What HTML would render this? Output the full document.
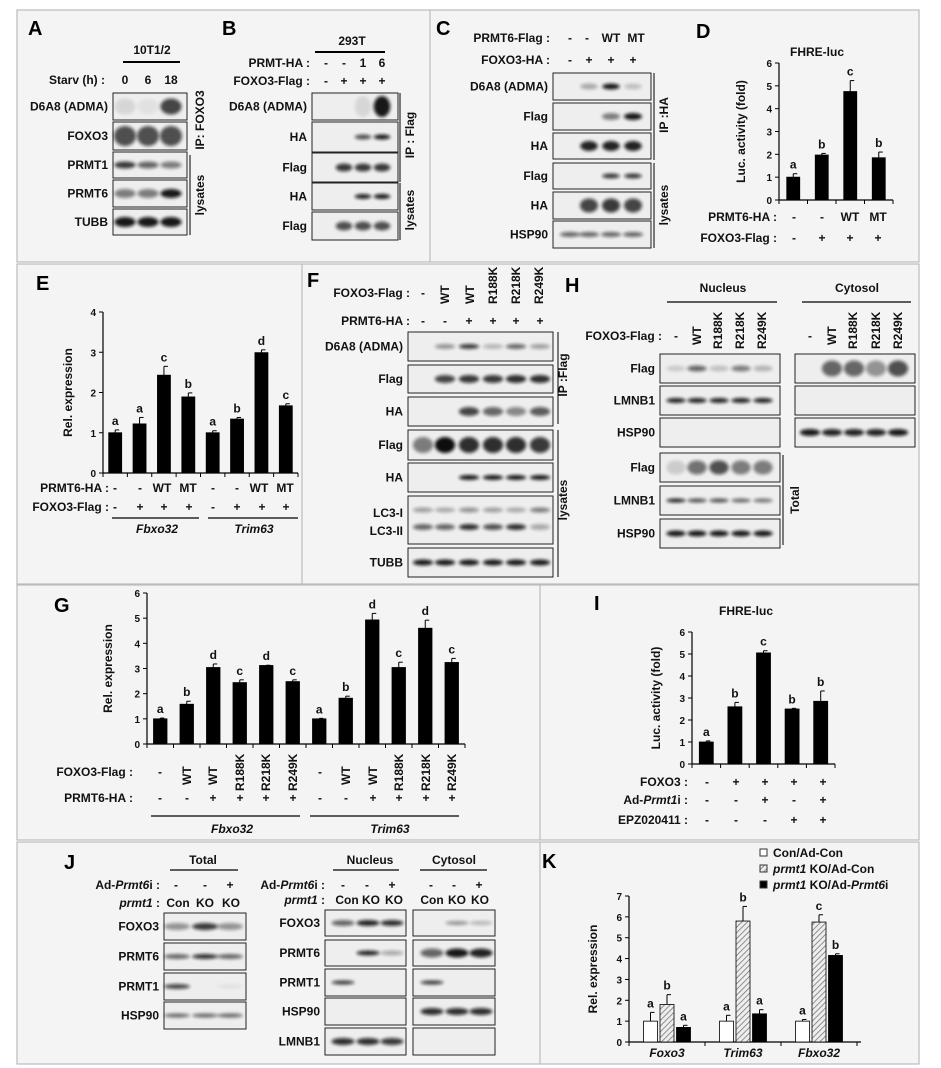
<!DOCTYPE html>
<html><head><meta charset="utf-8">
<style>
html,body{margin:0;padding:0;background:#fff;}
svg{display:block;font-family:"Liberation Sans",Arial,sans-serif;}
.lb{font-weight:bold;font-size:12px;fill:#111;}
.pl{font-weight:bold;font-size:20px;fill:#000;}
.tk{font-weight:bold;font-size:10px;fill:#111;}
.it{font-style:italic;}
</style></head>
<body>
<svg id="fig" width="941" height="1068" viewBox="0 0 941 1068" xmlns="http://www.w3.org/2000/svg">
<defs>
<filter id="blur" x="-50%" y="-100%" width="200%" height="300%"><feGaussianBlur stdDeviation="1.5"/></filter>
<pattern id="hatch" width="4" height="4" patternUnits="userSpaceOnUse" patternTransform="rotate(45)">
<rect width="4" height="4" fill="#eee"/><line x1="0" y1="0" x2="0" y2="4" stroke="#777" stroke-width="1.6"/></pattern>
</defs>
<rect x="0" y="0" width="941" height="1068" fill="#fff"/>
<g fill="#f4f4f4" stroke="#bbb" stroke-width="1.2">
<rect x="17" y="10" width="902" height="252"/>
<rect x="17" y="264" width="902" height="320"/>
<rect x="17" y="585" width="902" height="255"/>
<rect x="17" y="842" width="902" height="222"/>
</g>
<g stroke="#bbb" stroke-width="1.2">
<line x1="430" y1="10" x2="430" y2="262"/>
<line x1="302" y1="264" x2="302" y2="584"/>
<line x1="540" y1="585" x2="540" y2="840"/>
<line x1="540" y1="842" x2="540" y2="1064"/>
</g>
<g id="static">
<text class="pl" x="28" y="35">A</text>
<text class="lb" x="152" y="54" text-anchor="middle">10T1/2</text>
<line x1="123" y1="62" x2="180" y2="62" stroke="#000" stroke-width="2"/>
<text class="lb" x="105" y="84" text-anchor="end">Starv (h) :</text>
<text class="lb" x="125" y="84" text-anchor="middle">0</text><text class="lb" x="148" y="84" text-anchor="middle">6</text><text class="lb" x="171" y="84" text-anchor="middle">18</text>
<text class="lb" transform="translate(204,120) rotate(-90)" text-anchor="middle">IP: FOXO3</text>
<line x1="190" y1="155" x2="190" y2="235" stroke="#000"/>
<text class="lb" transform="translate(204,195) rotate(-90)" text-anchor="middle">lysates</text>
<text class="pl" x="222" y="35">B</text>
<text class="lb" x="352" y="45" text-anchor="middle">293T</text>
<line x1="315" y1="52" x2="385" y2="52" stroke="#000" stroke-width="2"/>
<text class="lb" x="310" y="67" text-anchor="end">PRMT-HA :</text>
<text class="lb" x="326" y="67" text-anchor="middle">-</text><text class="lb" x="344" y="67" text-anchor="middle">-</text><text class="lb" x="363" y="67" text-anchor="middle">1</text><text class="lb" x="382" y="67" text-anchor="middle">6</text>
<text class="lb" x="310" y="85" text-anchor="end">FOXO3-Flag :</text>
<text class="lb" x="326" y="85" text-anchor="middle">-</text><text class="lb" x="344" y="85" text-anchor="middle">+</text><text class="lb" x="363" y="85" text-anchor="middle">+</text><text class="lb" x="382" y="85" text-anchor="middle">+</text>
<line x1="400" y1="93" x2="400" y2="182" stroke="#000"/>
<text class="lb" transform="translate(414,135) rotate(-90)" text-anchor="middle">IP : Flag</text>
<line x1="400" y1="183" x2="400" y2="240" stroke="#000"/>
<text class="lb" transform="translate(414,210) rotate(-90)" text-anchor="middle">lysates</text>
<text class="pl" x="436" y="35">C</text>
<text class="lb" x="550" y="42" text-anchor="end">PRMT6-Flag :</text>
<text class="lb" x="570" y="42" text-anchor="middle">-</text><text class="lb" x="587" y="42" text-anchor="middle">-</text><text class="lb" x="611" y="42" text-anchor="middle">WT</text><text class="lb" x="636" y="42" text-anchor="middle">MT</text>
<text class="lb" x="550" y="64" text-anchor="end">FOXO3-HA :</text>
<text class="lb" x="570" y="64" text-anchor="middle">-</text><text class="lb" x="589" y="64" text-anchor="middle">+</text><text class="lb" x="611" y="64" text-anchor="middle">+</text><text class="lb" x="633" y="64" text-anchor="middle">+</text>
<line x1="654" y1="73" x2="654" y2="160" stroke="#000"/>
<text class="lb" transform="translate(668,115) rotate(-90)" text-anchor="middle">IP :HA</text>
<line x1="654" y1="163" x2="654" y2="248" stroke="#000"/>
<text class="lb" transform="translate(668,205) rotate(-90)" text-anchor="middle">lysates</text>
<text class="pl" x="696" y="38">D</text>
<text class="lb" x="817" y="56" text-anchor="middle">FHRE-luc</text>
<text class="lb" x="777" y="221" text-anchor="end">PRMT6-HA :</text>
<text class="lb" x="794" y="221" text-anchor="middle">-</text><text class="lb" x="822" y="221" text-anchor="middle">-</text><text class="lb" x="850" y="221" text-anchor="middle">WT</text><text class="lb" x="878" y="221" text-anchor="middle">MT</text>
<text class="lb" x="777" y="242" text-anchor="end">FOXO3-Flag :</text>
<text class="lb" x="794" y="242" text-anchor="middle">-</text><text class="lb" x="822" y="242" text-anchor="middle">+</text><text class="lb" x="850" y="242" text-anchor="middle">+</text><text class="lb" x="878" y="242" text-anchor="middle">+</text>
<text class="pl" x="36" y="290">E</text>
<text class="lb" x="109" y="492" text-anchor="end">PRMT6-HA :</text>
<text class="lb" x="109" y="511" text-anchor="end">FOXO3-Flag :</text>
<g class="lb" text-anchor="middle">
<text x="115" y="492">-</text><text x="140" y="492">-</text><text x="162" y="492">WT</text><text x="188" y="492">MT</text><text x="213" y="492">-</text><text x="237" y="492">-</text><text x="259" y="492">WT</text><text x="285" y="492">MT</text>
<text x="115" y="511">-</text><text x="140" y="511">+</text><text x="164" y="511">+</text><text x="189" y="511">+</text><text x="213" y="511">-</text><text x="237" y="511">+</text><text x="262" y="511">+</text><text x="286" y="511">+</text>
</g>
<line x1="112" y1="518" x2="199" y2="518" stroke="#000" stroke-width="1.2"/><line x1="208" y1="518" x2="298" y2="518" stroke="#000" stroke-width="1.2"/>
<text class="lb it" x="157" y="533" text-anchor="middle">Fbxo32</text><text class="lb it" x="254" y="533" text-anchor="middle">Trim63</text>
<text class="pl" x="307" y="287">F</text>
<text class="lb" x="410" y="297" text-anchor="end">FOXO3-Flag :</text>
<text class="lb" x="423" y="297" text-anchor="middle">-</text>
<g class="lb"><text transform="translate(449,304) rotate(-90)">WT</text><text transform="translate(474,304) rotate(-90)">WT</text><text transform="translate(497,304) rotate(-90)">R188K</text><text transform="translate(520,304) rotate(-90)">R218K</text><text transform="translate(543,304) rotate(-90)">R249K</text></g>
<text class="lb" x="410" y="325" text-anchor="end">PRMT6-HA :</text>
<g class="lb" text-anchor="middle"><text x="423" y="325">-</text><text x="445" y="325">-</text><text x="469" y="325">+</text><text x="493" y="325">+</text><text x="516" y="325">+</text><text x="540" y="325">+</text></g>
<line x1="558" y1="332" x2="558" y2="424" stroke="#000"/>
<text class="lb" transform="translate(567,375) rotate(-90)" text-anchor="middle">IP :Flag</text>
<line x1="558" y1="430" x2="558" y2="577" stroke="#000"/>
<text class="lb" transform="translate(567,500) rotate(-90)" text-anchor="middle">lysates</text>
<text class="pl" x="565" y="292">H</text>
<text class="lb" x="723" y="292" text-anchor="middle">Nucleus</text><line x1="667" y1="302" x2="777" y2="302" stroke="#000" stroke-width="1.2"/>
<text class="lb" x="857" y="292" text-anchor="middle">Cytosol</text><line x1="802" y1="302" x2="911" y2="302" stroke="#000" stroke-width="1.2"/>
<text class="lb" x="662" y="340" text-anchor="end">FOXO3-Flag :</text>
<text class="lb" x="676" y="340" text-anchor="middle">-</text>
<g class="lb"><text transform="translate(701,345) rotate(-90)">WT</text><text transform="translate(722,349) rotate(-90)">R188K</text><text transform="translate(744,349) rotate(-90)">R218K</text><text transform="translate(766,349) rotate(-90)">R249K</text>
<text x="810" y="340" text-anchor="middle">-</text><text transform="translate(836,345) rotate(-90)">WT</text><text transform="translate(857,349) rotate(-90)">R188K</text><text transform="translate(880,349) rotate(-90)">R218K</text><text transform="translate(902,349) rotate(-90)">R249K</text></g>
<line x1="783" y1="455" x2="783" y2="545" stroke="#000"/>
<text class="lb" transform="translate(799,500) rotate(-90)" text-anchor="middle">Total</text>
<text class="pl" x="54" y="612">G</text>
<text class="lb" x="133" y="776" text-anchor="end">FOXO3-Flag :</text>
<text class="lb" x="133" y="802" text-anchor="end">PRMT6-HA :</text>
<g class="lb" text-anchor="middle">
<text x="160" y="776">-</text><text x="320" y="776">-</text>
<text x="160" y="802">-</text><text x="187" y="802">-</text><text x="213" y="802">+</text><text x="240" y="802">+</text><text x="266" y="802">+</text><text x="293" y="802">+</text>
<text x="320" y="802">-</text><text x="346" y="802">-</text><text x="373" y="802">+</text><text x="399" y="802">+</text><text x="426" y="802">+</text><text x="452" y="802">+</text>
</g>
<g class="lb">
<text transform="translate(191,785) rotate(-90)">WT</text><text transform="translate(217,785) rotate(-90)">WT</text><text transform="translate(244,791) rotate(-90)">R188K</text><text transform="translate(270,791) rotate(-90)">R218K</text><text transform="translate(297,791) rotate(-90)">R249K</text>
<text transform="translate(350,785) rotate(-90)">WT</text><text transform="translate(377,785) rotate(-90)">WT</text><text transform="translate(403,791) rotate(-90)">R188K</text><text transform="translate(430,791) rotate(-90)">R218K</text><text transform="translate(456,791) rotate(-90)">R249K</text>
</g>
<line x1="151" y1="816" x2="300" y2="816" stroke="#000" stroke-width="1.2"/><line x1="310" y1="816" x2="459" y2="816" stroke="#000" stroke-width="1.2"/>
<text class="lb it" x="232" y="833" text-anchor="middle">Fbxo32</text><text class="lb it" x="390" y="833" text-anchor="middle">Trim63</text>
<text class="pl" x="594" y="610">I</text>
<text class="lb" x="746" y="615" text-anchor="middle">FHRE-luc</text>
<text class="lb" x="688" y="786" text-anchor="end">FOXO3 :</text>
<text class="lb" x="688" y="804" text-anchor="end">Ad-<tspan font-style="italic">Prmt1</tspan>i :</text>
<text class="lb" x="688" y="824" text-anchor="end">EPZ020411 :</text>
<g class="lb" text-anchor="middle">
<text x="707" y="786">-</text><text x="736" y="786">+</text><text x="765" y="786">+</text><text x="794" y="786">+</text><text x="823" y="786">+</text>
<text x="707" y="804">-</text><text x="736" y="804">-</text><text x="765" y="804">+</text><text x="794" y="804">-</text><text x="823" y="804">+</text>
<text x="707" y="824">-</text><text x="736" y="824">-</text><text x="765" y="824">-</text><text x="794" y="824">+</text><text x="823" y="824">+</text>
</g>
<text class="pl" x="64" y="869">J</text>
<text class="lb" x="203" y="864" text-anchor="middle">Total</text><line x1="170" y1="870" x2="238" y2="870" stroke="#000" stroke-width="1.2"/>
<text class="lb" x="370" y="864" text-anchor="middle">Nucleus</text><line x1="333" y1="870" x2="399" y2="870" stroke="#000" stroke-width="1.2"/>
<text class="lb" x="454" y="864" text-anchor="middle">Cytosol</text><line x1="420" y1="870" x2="487" y2="870" stroke="#000" stroke-width="1.2"/>
<text class="lb" x="160" y="889" text-anchor="end">Ad-<tspan font-style="italic">Prmt6</tspan>i :</text>
<text class="lb" x="160" y="907" text-anchor="end"><tspan font-style="italic">prmt1</tspan> :</text>
<text class="lb" x="325" y="889" text-anchor="end">Ad-<tspan font-style="italic">Prmt6</tspan>i :</text>
<text class="lb" x="325" y="904" text-anchor="end"><tspan font-style="italic">prmt1</tspan> :</text>
<g class="lb" text-anchor="middle">
<text x="176" y="889">-</text><text x="205" y="889">-</text><text x="230" y="889">+</text>
<text x="178" y="907">Con</text><text x="205" y="907">KO</text><text x="231" y="907">KO</text>
<text x="343" y="889">-</text><text x="367" y="889">-</text><text x="392" y="889">+</text>
<text x="347" y="904">Con</text><text x="371" y="904">KO</text><text x="394" y="904">KO</text>
<text x="431" y="889">-</text><text x="454" y="889">-</text><text x="479" y="889">+</text>
<text x="432" y="904">Con</text><text x="457" y="904">KO</text><text x="480" y="904">KO</text>
</g>
<text class="pl" x="542" y="868">K</text>
<g>
<rect x="760" y="849" width="7" height="7" fill="#fff" stroke="#333"/><text class="lb" x="773" y="857">Con/Ad-Con</text>
<rect x="760" y="865" width="7" height="7" fill="url(#hatch)" stroke="#333"/><text class="lb" x="773" y="873"><tspan font-style="italic">prmt1</tspan> KO/Ad-Con</text>
<rect x="760" y="881" width="7" height="7" fill="#000" stroke="#333"/><text class="lb" x="773" y="889"><tspan font-style="italic">prmt1</tspan> KO/Ad-<tspan font-style="italic">Prmt6</tspan>i</text>
</g>
</g>
<g id="blots"></g>
<g id="charts"></g>
</svg>
<script>
const dCategories = ["-/-", "-/+", "WT/+", "MT/+"];
const dValues = [1.0, 1.97, 4.75, 1.85];
const dErrors = [0.15, 0.07, 0.48, 0.25];
const dLetters = ["a", "b", "c", "b"];
const dTicks = [0, 1, 2, 3, 4, 5, 6];

const eCategories = ["Fbxo32 -/-", "Fbxo32 -/+", "Fbxo32 WT/+", "Fbxo32 MT/+", "Trim63 -/-", "Trim63 -/+", "Trim63 WT/+", "Trim63 MT/+"];
const eValues = [1.0, 1.22, 2.43, 1.89, 1.0, 1.34, 2.99, 1.67];
const eErrors = [0.07, 0.16, 0.22, 0.1, 0.05, 0.04, 0.07, 0.05];
const eLetters = ["a", "a", "c", "b", "a", "b", "d", "c"];
const eTicks = [0, 1, 2, 3, 4];

const gCategories = ["-", "WT", "WT+", "R188K", "R218K", "R249K", "-", "WT", "WT+", "R188K", "R218K", "R249K"];
const gValues = [1.0, 1.58, 3.04, 2.44, 3.12, 2.48, 1.0, 1.82, 4.93, 3.04, 4.6, 3.24];
const gErrors = [0.03, 0.12, 0.14, 0.11, 0.01, 0.07, 0.02, 0.08, 0.26, 0.21, 0.32, 0.16];
const gLetters = ["a", "b", "d", "c", "d", "c", "a", "b", "d", "c", "d", "c"];
const gTicks = [0, 1, 2, 3, 4, 5, 6];

const iCategories = ["ctrl", "FOXO3", "FOXO3+Prmt1i", "FOXO3+EPZ", "FOXO3+both"];
const iValues = [1.0, 2.6, 5.05, 2.5, 2.85];
const iErrors = [0.05, 0.2, 0.1, 0.03, 0.47];
const iLetters = ["a", "b", "c", "b", "b"];
const iTicks = [0, 1, 2, 3, 4, 5, 6];

const kGenes = ["Foxo3", "Trim63", "Fbxo32"];
const kSeries = ["Con/Ad-Con", "prmt1 KO/Ad-Con", "prmt1 KO/Ad-Prmt6i"];
const kConValues = [1.0, 1.0, 1.0];
const kKoValues = [1.8, 5.8, 5.75];
const kKoPrmt6iValues = [0.7, 1.35, 4.15];
const kConErrors = [0.42, 0.28, 0.08];
const kKoErrors = [0.47, 0.7, 0.35];
const kKoPrmt6iErrors = [0.1, 0.2, 0.08];
const kConLetters = ["a", "a", "a"];
const kKoLetters = ["b", "b", "c"];
const kKoPrmt6iLetters = ["a", "a", "b"];
const kTicks = [0, 1, 2, 3, 4, 5, 6, 7];

const NS = "http://www.w3.org/2000/svg";
function mk(tag, attrs, parent) {
  const e = document.createElementNS(NS, tag);
  for (const k in attrs) e.setAttribute(k, attrs[k]);
  parent.appendChild(e);
  return e;
}
const charts = document.getElementById("charts");

function yAxis(g, x, y0, yTop, ticks, title, titleX, name) {
  const max = ticks[ticks.length - 1];
  const ys = v => y0 - v / max * (y0 - yTop);
  const ax = mk("line", {x1: x, y1: y0, x2: x, y2: yTop, stroke: "#000", "stroke-width": 1.2}, g);
  
  
  ticks.forEach(t => {
    mk("line", {x1: x - 4, y1: ys(t), x2: x, y2: ys(t), stroke: "#000"}, g);
    const tl = mk("text", {x: x - 7, y: ys(t) + 4, "text-anchor": "end", class: "tk"}, g);
    tl.textContent = t;
    
    
  });
  const tt = mk("text", {transform: `translate(${titleX},${(y0 + yTop) / 2}) rotate(-90)`, "text-anchor": "middle", class: "lb", "font-size": "13"}, g);
  tt.textContent = title;
  
  
  return ys;
}

function bar(g, cx, w, v, err, letter, ys, y0, fill, name) {
  const r = mk("rect", {x: cx - w / 2, y: ys(v), width: w, height: y0 - ys(v), fill: fill, stroke: "#000", "stroke-width": 0.8}, g);
  
  
  const top = ys(v + err);
  mk("line", {x1: cx, y1: ys(v), x2: cx, y2: top, stroke: "#000", "stroke-width": 1}, g);
  mk("line", {x1: cx, y1: top, x2: cx + 4, y2: top, stroke: "#000", "stroke-width": 1}, g);
  const t = mk("text", {x: cx, y: top - 5, "text-anchor": "middle", class: "lb"}, g);
  t.textContent = letter;
  
  
}

function simpleChart(name, x0, xEnd, y0, yTop, ticks, vals, errs, letters, barW, title, titleX) {
  const g = mk("g", {}, charts);
  
  
  const ys = yAxis(g, x0, y0, yTop, ticks, title, titleX, name);
  const bw = (xEnd - x0) / vals.length;
  const xa = mk("line", {x1: x0, y1: y0, x2: xEnd, y2: y0, stroke: "#000", "stroke-width": 1.2}, g);
  
  
  for (let i = 0; i <= vals.length; i++) mk("line", {x1: x0 + i * bw, y1: y0, x2: x0 + i * bw, y2: y0 + 4, stroke: "#000"}, g);
  vals.forEach((v, i) => bar(g, x0 + (i + 0.5) * bw, barW, v, errs[i], letters[i], ys, y0, "#000", name + "-bar-" + (i + 1)));
}

simpleChart("d", 779, 893, 200, 63, dTicks, dValues, dErrors, dLetters, 13, "Luc. activity (fold)", 745);
simpleChart("e", 103, 298, 473, 312, eTicks, eValues, eErrors, eLetters, 13, "Rel. expression", 72);
simpleChart("g", 147, 465, 744, 593, gTicks, gValues, gErrors, gLetters, 13.5, "Rel. expression", 112);
simpleChart("i", 692, 835, 764, 632, iTicks, iValues, iErrors, iLetters, 14, "Luc. activity (fold)", 660);

(function () {
  const g = mk("g", {}, charts);
  
  
  const x0 = 629, y0 = 1042, yTop = 896, gw = 76;
  const ys = yAxis(g, x0, y0, yTop, kTicks, "Rel. expression", 597, "k");
  const xa = mk("line", {x1: x0, y1: y0, x2: x0 + gw * kGenes.length + 4, y2: y0, stroke: "#000", "stroke-width": 1.2}, g);
  
  
  const series = [
    [kConValues, kConErrors, kConLetters, "#fff"],
    [kKoValues, kKoErrors, kKoLetters, "url(#hatch)"],
    [kKoPrmt6iValues, kKoPrmt6iErrors, kKoPrmt6iLetters, "#000"]
  ];
  kGenes.forEach((gene, i) => {
    const c = x0 + (i + 0.5) * gw;
    mk("line", {x1: x0 + i * gw, y1: y0, x2: x0 + i * gw, y2: y0 + 4, stroke: "#000"}, g);
    series.forEach((s, j) => bar(g, c + (j - 1) * 16.5, 14, s[0][i], s[1][i], s[2][i], ys, y0, s[3], "k-bar-" + gene.toLowerCase() + "-" + (j + 1)));
    const t = mk("text", {x: c, y: 1057, "text-anchor": "middle", class: "lb it", "font-size": "13"}, g);
    t.textContent = gene;
    
    
  });
  mk("line", {x1: x0 + 3 * gw, y1: y0, x2: x0 + 3 * gw, y2: y0 + 4, stroke: "#000"}, g);
})();

const blotsG = document.getElementById("blots");
function blot(name, label, x, y, w, h, lanes, ints, bw, bh, dy) {
  const g = mk("g", {}, blotsG);
  
  
  mk("rect", {x: x, y: y, width: w, height: h, fill: "#eeeeee", stroke: "#222", "stroke-width": 1}, g);
  const cy = y + h / 2 + (dy || 0);
  const sp = lanes.length > 1 ? lanes[1] - lanes[0] : 20;
  const rx = Math.max(bw / 2, sp * 0.46);
  lanes.forEach((lx, i) => {
    const v = ints[i];
    if (v > 0.02) mk("ellipse", {cx: lx, cy: cy, rx: rx, ry: Math.min(bh / 2, h / 2 - 3), fill: "#111", opacity: v, filter: "url(#blur)"}, g);
  });
  if (label) {
    const t = mk("text", {x: x - 5, y: y + h / 2 + 4, "text-anchor": "end", class: "lb"}, g);
    t.textContent = label;
  }
  return g;
}
const LA = [125, 148, 171], LB = [326, 344, 363, 382], LC = [570, 589, 611, 633];
const LF = [423, 445, 469, 493, 516, 540], LHN = [676, 697, 719, 741, 763], LHC = [810, 832, 854, 876, 898];
const LJT = [177, 205, 230], LJN = [343, 368, 392], LJC = [432, 457, 481];
blot("blot-a-d6a8", "D6A8 (ADMA)", 113, 93, 74, 27, LA, [0.1, 0.05, 0.75], 18, 16);
blot("blot-a-foxo3", "FOXO3", 113, 122, 74, 28, LA, [0.7, 0.7, 0.7], 22, 20);
blot("blot-a-prmt1", "PRMT1", 113, 152, 74, 26, LA, [0.8, 0.6, 0.5], 18, 7);
blot("blot-a-prmt6", "PRMT6", 113, 180, 74, 27, LA, [0.5, 0.5, 0.95], 18, 9);
blot("blot-a-tubb", "TUBB", 113, 209, 74, 26, LA, [0.95, 0.95, 0.95], 20, 10);
blot("blot-b-d6a8", "D6A8 (ADMA)", 312, 93, 86, 27, LB, [0, 0, 0.1, 0.95], 14, 22);
blot("blot-b-ha", "HA", 312, 122, 86, 30, LB, [0, 0, 0.7, 0.95], 14, 5);
blot("blot-b-flag", "Flag", 312, 153, 86, 29, LB, [0, 0.8, 0.8, 0.8], 13, 8);
blot("blot-b-ha2", "HA", 312, 183, 86, 27, LB, [0, 0, 0.9, 0.95], 15, 5);
blot("blot-b-flag2", "Flag", 312, 212, 86, 28, LB, [0, 0.7, 0.7, 0.7], 13, 9);
blot("blot-c-d6a8", "D6A8 (ADMA)", 553, 73, 98, 27, LC, [0, 0.3, 0.95, 0.2], 16, 6);
blot("blot-c-flag", "Flag", 553, 103, 98, 27, LC, [0, 0, 0.5, 0.95], 18, 7);
blot("blot-c-ha", "HA", 553, 133, 98, 26, LC, [0, 0.9, 0.9, 0.9], 16, 10);
blot("blot-c-flag2", "Flag", 553, 163, 98, 26, LC, [0, 0, 0.8, 0.8], 16, 5);
blot("blot-c-ha2", "HA", 553, 192, 98, 27, LC, [0, 0.75, 0.8, 0.75], 18, 14);
blot("blot-c-hsp90", "HSP90", 553, 221, 98, 27, LC, [0.6, 0.6, 0.6, 0.6], 20, 5);
blot("blot-f-d6a8", "D6A8 (ADMA)", 408, 332, 145, 29, LF, [0, 0.4, 0.8, 0.25, 0.6, 0.35], 16, 5);
blot("blot-f-flag", "Flag", 408, 365, 145, 28, LF, [0, 0.75, 0.8, 0.8, 0.85, 0.85], 18, 8);
blot("blot-f-ha", "HA", 408, 397, 145, 29, LF, [0, 0, 0.75, 0.6, 0.45, 0.65], 18, 9);
blot("blot-f-flag2", "Flag", 408, 430, 145, 30, LF, [0.5, 1, 0.85, 0.85, 0.85, 0.8], 20, 16);
blot("blot-f-ha2", "HA", 408, 463, 145, 29, LF, [0, 0, 0.95, 0.95, 0.95, 0.95], 18, 5);
const lc3 = blot("blot-f-lc3", "", 408, 496, 145, 48, LF, [0.35, 0.3, 0.4, 0.35, 0.3, 0.5], 14, 5, -10);
LF.forEach((lx, i) => mk("ellipse", {cx: lx, cy: 527, rx: 10, ry: 3, fill: "#111", opacity: [0.6, 0.6, 0.85, 0.7, 0.85, 0.3][i], filter: "url(#blur)"}, lc3));
mk("text", {x: 403, y: 517, "text-anchor": "end", class: "lb"}, lc3).textContent = "LC3-I";
mk("text", {x: 403, y: 535, "text-anchor": "end", class: "lb"}, lc3).textContent = "LC3-II";
blot("blot-f-tubb", "TUBB", 408, 548, 145, 29, LF, [0.95, 0.95, 0.95, 0.95, 0.95, 0.95], 20, 6);
blot("blot-h-nuc-flag", "Flag", 660, 354, 120, 29, LHN, [0.15, 0.6, 0.2, 0.5, 0.25], 12, 6);
blot("blot-h-nuc-lmnb1", "LMNB1", 660, 386, 120, 29, LHN, [0.9, 0.9, 0.9, 0.9, 0.9], 18, 5);
blot("blot-h-nuc-hsp90", "HSP90", 660, 418, 120, 29, LHN, [0, 0, 0, 0, 0], 10, 5);
blot("blot-h-cyt-flag", "", 795, 354, 120, 29, LHC, [0, 0.6, 0.6, 0.4, 0.7], 16, 16);
blot("blot-h-cyt-lmnb1", "", 795, 386, 120, 29, LHC, [0, 0, 0, 0, 0], 10, 5);
blot("blot-h-cyt-hsp90", "", 795, 418, 120, 29, LHC, [0.95, 0.9, 0.9, 0.9, 0.95], 18, 7);
blot("blot-h-tot-flag", "Flag", 660, 453, 120, 29, LHN, [0.15, 0.55, 0.7, 0.5, 0.5], 16, 14);
blot("blot-h-tot-lmnb1", "LMNB1", 660, 486, 120, 29, LHN, [0.9, 0.7, 0.7, 0.6, 0.55], 16, 4);
blot("blot-h-tot-hsp90", "HSP90", 660, 519, 120, 29, LHN, [0.95, 0.95, 0.95, 0.95, 0.95], 18, 6);
blot("blot-j-tot-foxo3", "FOXO3", 164, 913, 82, 27, LJT, [0.4, 0.8, 0.4], 18, 7);
blot("blot-j-tot-prmt6", "PRMT6", 164, 943, 82, 27, LJT, [0.6, 0.85, 0.6], 18, 5);
blot("blot-j-tot-prmt1", "PRMT1", 164, 973, 82, 27, LJT, [0.75, 0, 0.05], 16, 5);
blot("blot-j-tot-hsp90", "HSP90", 164, 1002, 82, 27, LJT, [0.6, 0.6, 0.6], 18, 4);
blot("blot-j-nuc-foxo3", "FOXO3", 325, 910, 81, 26, LJN, [0.6, 0.9, 0.85], 18, 6);
blot("blot-j-nuc-prmt6", "PRMT6", 325, 940, 81, 26, LJN, [0, 0.9, 0.3], 18, 5);
blot("blot-j-nuc-prmt1", "PRMT1", 325, 969, 81, 27, LJN, [0.8, 0, 0], 20, 4);
blot("blot-j-nuc-hsp90", "HSP90", 325, 998, 81, 27, LJN, [0, 0, 0], 10, 4);
blot("blot-j-nuc-lmnb1", "LMNB1", 325, 1028, 81, 27, LJN, [0.85, 0.85, 0.8], 20, 7);
blot("blot-j-cyt-foxo3", "", 413, 910, 82, 26, LJC, [0, 0.4, 0.25], 14, 4);
blot("blot-j-cyt-prmt6", "", 413, 940, 82, 26, LJC, [0.6, 0.95, 0.9], 22, 9);
blot("blot-j-cyt-prmt1", "", 413, 969, 82, 27, LJC, [0.8, 0, 0], 16, 4);
blot("blot-j-cyt-hsp90", "", 413, 998, 82, 27, LJC, [0.85, 0.85, 0.85], 20, 7);
blot("blot-j-cyt-lmnb1", "", 413, 1028, 82, 27, LJC, [0, 0, 0], 10, 4);
</script>
</body></html>
